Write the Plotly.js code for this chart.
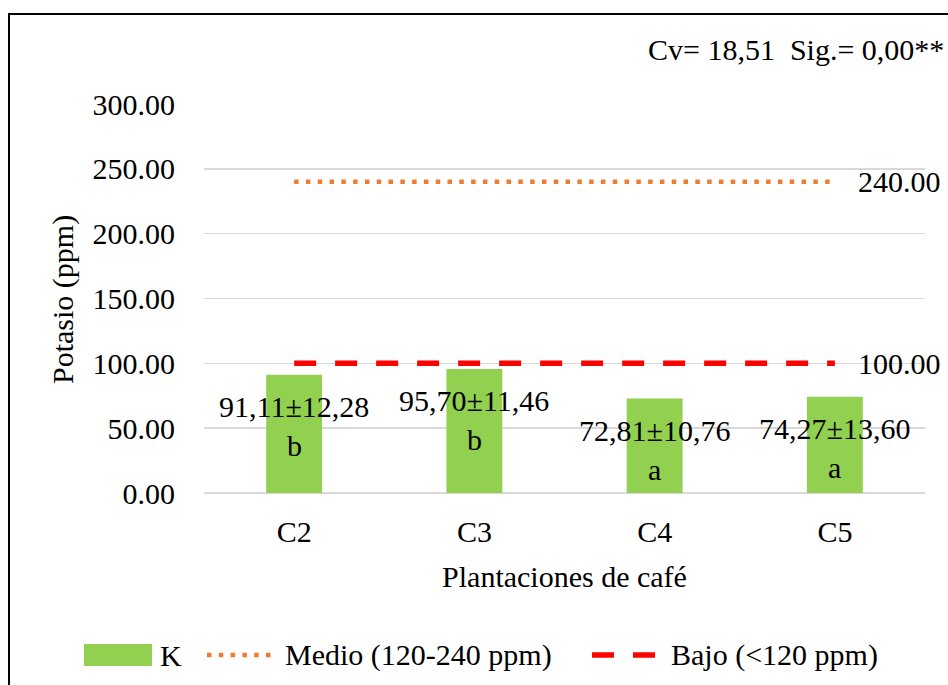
<!DOCTYPE html>
<html>
<head>
<meta charset="utf-8">
<script src="https://cdn.plot.ly/plotly-3.0.1.min.js"></script>
<style>html,body{margin:0;padding:0;background:#fff;}#chart{width:948px;height:685px;}</style>
</head>
<body>
<div id="chart"></div>
<script>
const categories = ["C2", "C3", "C4", "C5"];
const kMeans = [91.11, 95.70, 72.81, 74.27];
const kSD = [12.28, 11.46, 10.76, 13.60];
const letters = ["b", "b", "a", "a"];
const medioLevel = [240, 240, 240, 240];
const bajoLevel = [100, 100, 100, 100];
const yTicks = [0, 50, 100, 150, 200, 250, 300];
const seriesNames = ["K", "Medio (120-240 ppm)", "Bajo (<120 ppm)"];
const xTitle = "Plantaciones de café";
const yTitle = "Potasio (ppm)";
const statsText = "Cv= 18,51\u00a0\u00a0Sig.= 0,00**";

const FONT = "'Liberation Serif', 'Times New Roman', Times, serif";
const FS = 30;
const GREEN = "#92D050", ORANGE = "#ED7D31", RED = "#FF0000";
const DOT = "4.5px,7.3px", DASH = "22px,19px";
const fmt = v => v.toFixed(2).replace(".", ",");

const traces = [
  {type: "bar", name: seriesNames[0], x: categories, y: kMeans, width: 0.31,
   marker: {color: GREEN}, hoverinfo: "skip"},
  {type: "scatter", mode: "lines", name: seriesNames[1], x: categories, y: medioLevel,
   line: {color: ORANGE, width: 4.5, dash: DOT}, hoverinfo: "skip"},
  {type: "scatter", mode: "lines", name: seriesNames[2], x: categories, y: bajoLevel,
   line: {color: RED, width: 5.5, dash: DASH}, hoverinfo: "skip"}
];

const W = 721, H = 389;
const px = x => (x - 204) / W;
const py = y => (493 - y) / H;
const txt = (text, size) => ({text: text, showarrow: false, font: {family: FONT, size: size || FS, color: "#000"}});

const annotations = [];
categories.forEach((c, i) => {
  annotations.push(Object.assign(txt(fmt(kMeans[i]) + "±" + fmt(kSD[i])),
    {x: c, y: kMeans[i], xref: "x", yref: "y", yanchor: "top", xanchor: "center", yshift: -13}));
  annotations.push(Object.assign(txt(letters[i]),
    {x: c, y: kMeans[i], xref: "x", yref: "y", yanchor: "top", xanchor: "center", yshift: -52}));
});
[medioLevel, bajoLevel].forEach(arr => {
  const last = arr.length - 1;
  annotations.push(Object.assign(txt(arr[last].toFixed(2)),
    {x: categories[last], y: arr[last], xref: "x", yref: "y", xanchor: "left", yanchor: "middle", xshift: 21}));
});
annotations.push(Object.assign(txt(statsText),
  {x: px(946), y: py(50), xref: "paper", yref: "paper", xanchor: "right", yanchor: "middle"}));
annotations.push(Object.assign(txt(yTitle),
  {x: px(63), y: py(300), xref: "paper", yref: "paper", xanchor: "center", yanchor: "middle", textangle: -90}));

// legend (drawn manually to match symbol sizes)
const LY = 655;
annotations.push(Object.assign(txt(seriesNames[0]), {x: px(158), y: py(LY), xref: "paper", yref: "paper", xanchor: "left", yanchor: "middle"}));
annotations.push(Object.assign(txt(seriesNames[1]), {x: px(283), y: py(LY), xref: "paper", yref: "paper", xanchor: "left", yanchor: "middle"}));
annotations.push(Object.assign(txt(seriesNames[2]), {x: px(669), y: py(LY), xref: "paper", yref: "paper", xanchor: "left", yanchor: "middle"}));

const shapes = [
  {type: "rect", xref: "paper", yref: "paper", x0: px(9), x1: px(960), y0: py(700), y1: py(14),
   line: {color: "#000", width: 2}, fillcolor: "rgba(0,0,0,0)", layer: "above"},
  {type: "rect", xref: "paper", yref: "paper", x0: px(84), x1: px(152), y0: py(666), y1: py(644),
   line: {width: 0}, fillcolor: GREEN},
  {type: "line", xref: "paper", yref: "paper", x0: px(207), x1: px(274), y0: py(LY), y1: py(LY),
   line: {color: ORANGE, width: 4.5, dash: DOT}},
  {type: "line", xref: "paper", yref: "paper", x0: px(592), x1: px(658), y0: py(LY), y1: py(LY),
   line: {color: RED, width: 5.5, dash: DASH}}
];

const layout = {
  width: 948, height: 685,
  margin: {l: 204, r: 23, t: 104, b: 192, pad: 0, autoexpand: false},
  paper_bgcolor: "#fff", plot_bgcolor: "#fff",
  font: {family: FONT, size: FS, color: "#000"},
  showlegend: false,
  xaxis: {type: "category", range: [-0.5, 3.5], showgrid: false, zeroline: false, showline: false, ticks: "",
    ticklabelstandoff: 18, tickfont: {family: FONT, size: FS}, automargin: false,
    title: {text: xTitle, font: {family: FONT, size: FS}, standoff: 18}},
  yaxis: {range: [0, 300], tickvals: yTicks, ticktext: yTicks.map(v => v.toFixed(2)),
    showgrid: true, gridcolor: "#D9D9D9", gridwidth: 1.5, zeroline: true, zerolinecolor: "#D9D9D9", zerolinewidth: 1.5,
    showline: false, ticks: "", ticklabelstandoff: 28, tickfont: {family: FONT, size: FS}, automargin: false},
  annotations: annotations,
  shapes: shapes
};

Plotly.newPlot("chart", traces, layout, {staticPlot: true, displayModeBar: false});
</script>
</body>
</html>
